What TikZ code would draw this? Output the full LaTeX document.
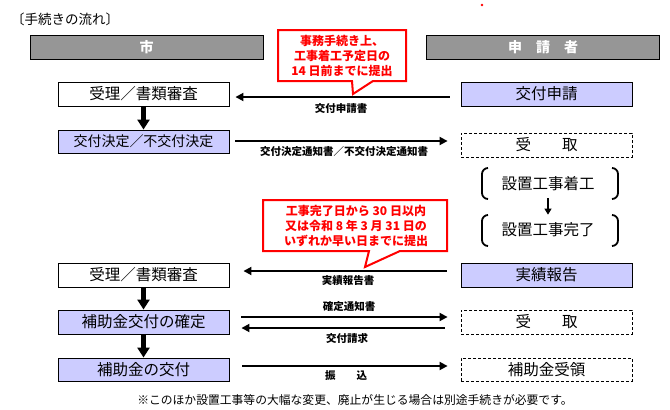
\documentclass[tikz,border=0pt]{standalone}
\usepackage{fontspec}
\setmainfont{Noto Sans CJK JP}
\usetikzlibrary{arrows.meta,calc}
\definecolor{hdr}{HTML}{969696}
\definecolor{lav}{HTML}{CCCCFF}
\definecolor{callred}{HTML}{FF0000}
\begin{document}
\begin{tikzpicture}[x=1pt,y=-1pt,
  box/.style={draw=black,line width=0.9pt,minimum width=171pt,minimum height=24pt,inner sep=0pt,font=\fontsize{15.5}{17}\selectfont},
  lavbox/.style={box,fill=lav},
  dbox/.style={box,dash pattern=on 3pt off 2pt,line width=0.8pt},
  hdrbox/.style={draw=black,line width=0.9pt,fill=hdr,minimum width=233pt,minimum height=24pt,inner sep=0pt,text=white,font=\fontsize{14}{16}\selectfont\bfseries},
  bigarrow/.style={line width=4.5pt,-{Triangle[length=10pt,width=12pt]}},
  harrow/.style={line width=1.8pt,-{Triangle[length=8pt,width=8pt]}},
  smarrow/.style={line width=1.2pt,-{Triangle[length=6pt,width=7pt]}},
  lbl/.style={inner sep=0pt,font=\fontsize{10.5}{12}\selectfont\bfseries},
  calltext/.style={inner sep=0pt,align=center,text=callred,font=\fontsize{12}{15}\selectfont\bfseries},
  callout/.style={draw=callred,fill=white,line width=2pt,line join=miter},
  brk/.style={line width=1.8pt},
  plain/.style={inner sep=0pt,font=\fontsize{15.5}{17}\selectfont}
]
\useasboundingbox (0,0) rectangle (670,410);
\fill[white] (0,0) rectangle (670,410);

% title
\node[inner sep=0pt,anchor=west,font=\fontsize{13.5}{15}\selectfont] (title) at (11,19) {〔手続きの流れ〕};
\fill[callred] (482,5) circle (1.3);
\coordinate (dot) at (482,5);

% headers
\node[hdrbox] (hL) at (146.5,47) {市};
\node[hdrbox] (hR) at (543,47) {申　請　者};

% left column
\node[box] (L1) at (143.5,94) {受理／書類審査};
\node[lavbox,minimum height=23pt,font=\fontsize{14}{16}\selectfont] (L2) at (143.5,141.5) {交付決定／不交付決定};
\node[box] (L3) at (143.5,275) {受理／書類審査};
\node[lavbox] (L4) at (143.5,322) {補助金交付の確定};
\node[lavbox,minimum height=23pt] (L5) at (143.5,369.5) {補助金の交付};

% right column
\node[lavbox] (R1) at (546.5,94) {交付申請};
\node[dbox] (R2) at (546.5,145) {受　　取};
\node[plain] (R3) at (548,184) {設置工事着工};
\node[plain] (R4) at (548,230) {設置工事完了};
\node[lavbox] (R5) at (546.5,275) {実績報告};
\node[dbox] (R6) at (546.5,322) {受　　取};
\node[dbox,minimum height=23pt] (R7) at (546.5,369.5) {補助金受領};

% brackets
\draw[brk] (488,168) to[out=180,in=90] (482,174) -- (482,193) to[out=-90,in=180] (488,199);
\draw[brk] (612,168) to[out=0,in=90] (618,174) -- (618,193) to[out=-90,in=0] (612,199);
\draw[brk] (488,215) to[out=180,in=90] (482,221) -- (482,240) to[out=-90,in=180] (488,246);
\draw[brk] (612,215) to[out=0,in=90] (618,221) -- (618,240) to[out=-90,in=0] (612,246);

% vertical arrows
\draw[bigarrow] (L1.south) -- (L2.north);
\draw[bigarrow] (L3.south) -- (L4.north);
\draw[bigarrow] (L4.south) -- (L5.north);
\draw[smarrow] ([yshift=-7pt]R3.south) -- ([yshift=8pt]R4.north);

% horizontal arrows
\draw[harrow] ($(R1.west)+(-11,3)$) -- ($(L1.east)+(6,3)$);
\draw[harrow] ($(L2.east)+(6,-0.5)$) -- ($(L2.east -| R2.west)+(-13,-0.5)$);
\draw[harrow] ($(R5.west)+(-14,-4)$) -- ($(L3.east)+(14,-4)$);
\draw[harrow] ($(L4.east)+(12,-5)$) -- ($(L4.east -| R6.west)+(-13,-5)$);
\draw[harrow] ($(R6.west)+(-16,6)$) -- ($(L4.east)+(12,6)$);
\draw[harrow] ($(L5.east)+(13,-3.5)$) -- ($(L5.east -| R7.west)+(-13,-3.5)$);

% labels
\node[lbl] (t1) at (341,109) {交付申請書};
\node[lbl] (t2) at (344,152) {交付決定通知書／不交付決定通知書};
\node[lbl] (t3) at (348,281) {実績報告書};
\node[lbl] (t4) at (349,307) {確定通知書};
\node[lbl] (t5) at (347,338) {交付請求};
\node[lbl] (t6) at (346,376) {振　　込};

% callouts
\draw[callout] (278,30) -- (406,30) -- (406,81) -- (373,81) -- (353,94) -- (352,81) -- (278,81) -- cycle;
\node[calltext] (c1) at (342,55.5) {事務手続き上、\\工事着工予定日の\\14 日前までに提出};
\draw[callout] (263,200) -- (447,200) -- (447,251) -- (400,251) -- (365,267) -- (369,251) -- (263,251) -- cycle;
\node[calltext] (c2) at (356,225.5) {工事完了日から 30 日以内\\又は令和 8 年 3 月 31 日の\\いずれか早い日までに提出};

% footnote
\node[inner sep=0pt,font=\fontsize{11.8}{13}\selectfont] (foot) at (355,400) {※このほか設置工事等の大幅な変更、廃止が生じる場合は別途手続きが必要です。};
\end{tikzpicture}
\end{document}
